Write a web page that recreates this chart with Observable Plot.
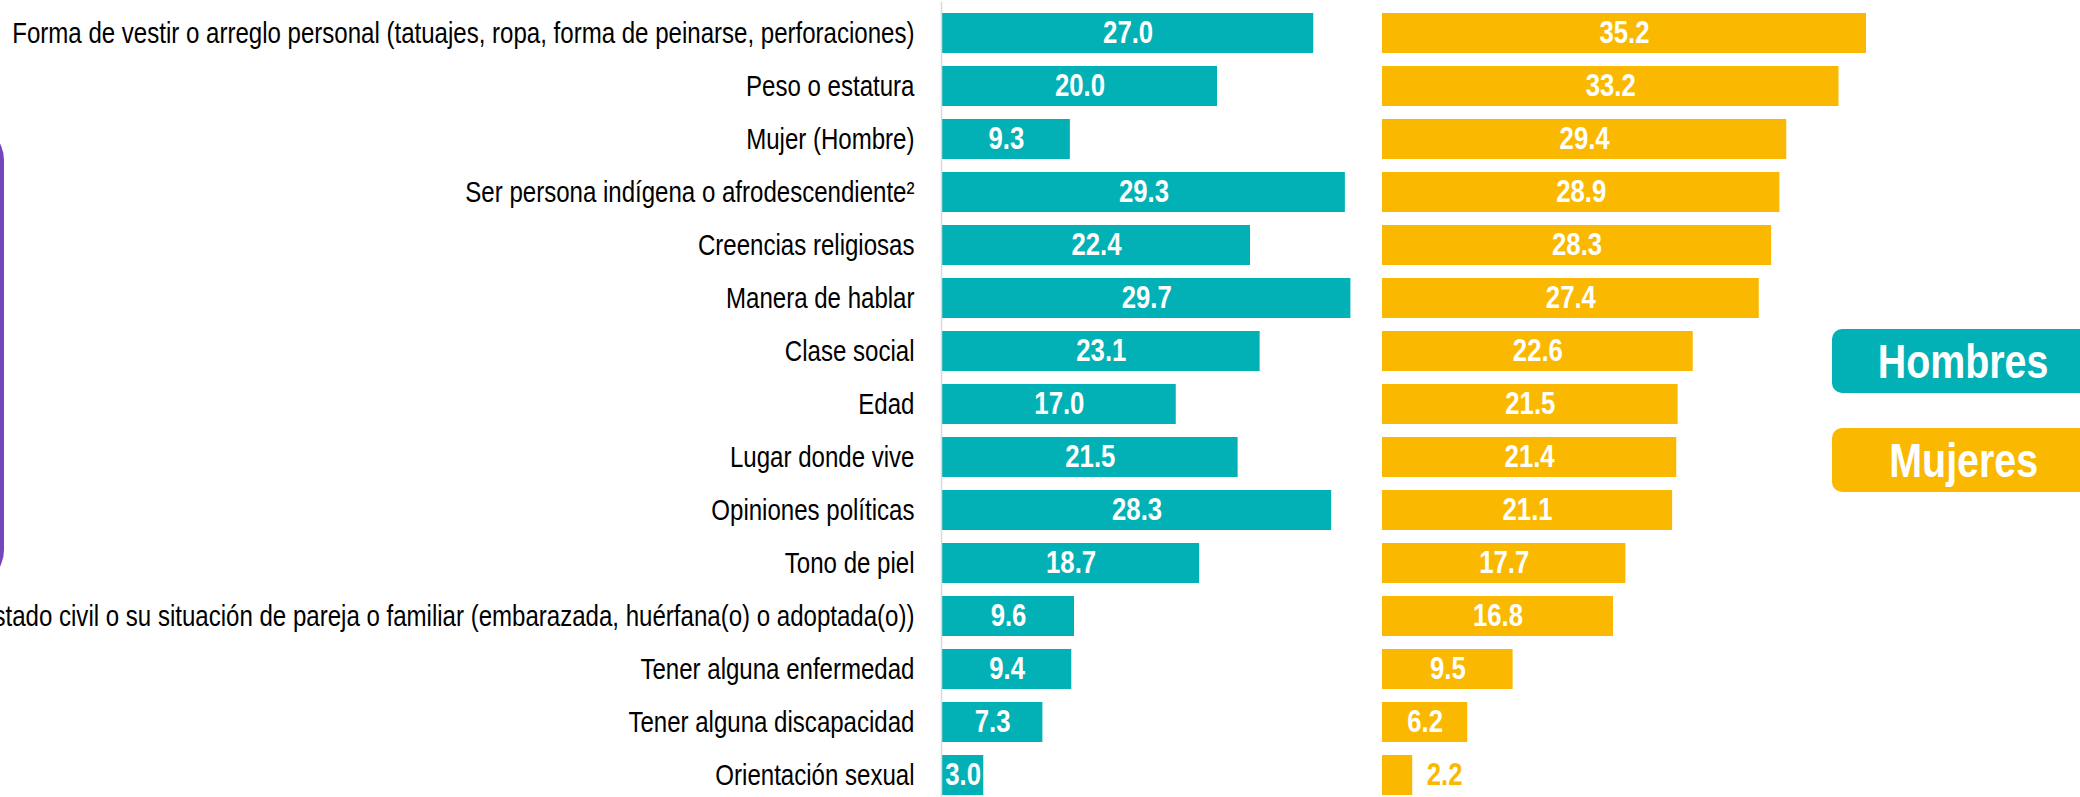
<!DOCTYPE html>
<html><head><meta charset="utf-8">
<script src="https://cdn.jsdelivr.net/npm/d3@7"></script>
<script src="https://cdn.jsdelivr.net/npm/@observablehq/plot@0.6"></script>
<style>
html,body{margin:0;padding:0;background:#fff;overflow:hidden;width:2080px;height:797px;}
#wrap{position:relative;width:2080px;height:797px;overflow:hidden;}
#wrap svg{position:absolute;left:0;top:0;}
.deco{position:absolute;left:-296px;top:124px;width:300px;height:462px;border-radius:36px;background:#7446BE;}
.legend-item{position:absolute;left:1832px;width:263px;height:64px;border-radius:10px;color:#fff;font-family:"Liberation Sans",Arial,sans-serif;font-weight:bold;font-size:48px;display:flex;align-items:center;justify-content:center;}
.legend-item span{display:inline-block;transform:scaleX(0.82);}
</style></head><body><div id="wrap"><div class="deco"></div></div>
<script>
const categories = [
  "Forma de vestir o arreglo personal (tatuajes, ropa, forma de peinarse, perforaciones)",
  "Peso o estatura",
  "Mujer (Hombre)",
  "Ser persona indígena o afrodescendiente²",
  "Creencias religiosas",
  "Manera de hablar",
  "Clase social",
  "Edad",
  "Lugar donde vive",
  "Opiniones políticas",
  "Tono de piel",
  "Estado civil o su situación de pareja o familiar (embarazada, huérfana(o) o adoptada(o))",
  "Tener alguna enfermedad",
  "Tener alguna discapacidad",
  "Orientación sexual"
];
const hombres = [27.0, 20.0, 9.3, 29.3, 22.4, 29.7, 23.1, 17.0, 21.5, 28.3, 18.7, 9.6, 9.4, 7.3, 3.0];
const mujeres = [35.2, 33.2, 29.4, 28.9, 28.3, 27.4, 22.6, 21.5, 21.4, 21.1, 17.7, 16.8, 9.5, 6.2, 2.2];
const series = ["Hombres", "Mujeres"];
const colors = ["#02B1B5", "#FAB900"];

const rows = categories.flatMap((c, i) => [
  {cat: c, sex: series[0], value: hombres[i]},
  {cat: c, sex: series[1], value: mujeres[i]}
]);
const font = '"Liberation Sans", Arial, sans-serif';
const inside = d => d.value >= 2.5;
const fmt = d => d.value.toFixed(1);

const chart = Plot.plot({
  width: 2080,
  height: 806,
  marginLeft: 941,
  marginRight: 257.7,
  marginTop: 1.7,
  marginBottom: 0,
  style: {fontFamily: font, background: "transparent"},
  x: {domain: [0, 32], axis: null},
  y: {domain: categories, paddingInner: 0.245, paddingOuter: 0.1225, axis: null},
  fx: {domain: series, padding: 0, axis: null},
  color: {domain: series, range: colors},
  marks: [
    Plot.barX(rows, {fx: "sex", y: "cat", x: "value", fill: "sex"}),
    Plot.ruleX([{sex: series[0]}], {fx: "sex", x: 0, stroke: "#d9d9d9", strokeWidth: 1.5, dx: -1}),
    Plot.text(rows.filter(inside), {fx: "sex", y: "cat", x: d => d.value / 2, text: fmt, fill: "white", fontWeight: "bold", fontSize: 31}),
    Plot.text(rows.filter(d => !inside(d)), {fx: "sex", y: "cat", x: "value", text: fmt, fill: "sex", fontWeight: "bold", fontSize: 31, textAnchor: "start", dx: 14}),
    Plot.text(rows.filter(d => d.sex === series[0]), {fx: "sex", y: "cat", x: 0, text: "cat", textAnchor: "end", dx: -28, fontSize: 29, fill: "#000"})
  ]
});
// narrow the type (Arial Narrow look) around each text's anchor point
chart.querySelectorAll("text").forEach(t => {
  const tr = t.getAttribute("transform") || "";
  t.setAttribute("transform", tr + " scale(0.83,1)");
});
const wrap = document.getElementById("wrap");
wrap.append(chart);
series.forEach((s, i) => {
  const d = document.createElement("div");
  d.className = "legend-item";
  d.style.top = [329, 428][i] + "px";
  d.style.background = colors[i];
  const sp = document.createElement("span");
  sp.textContent = s;
  d.append(sp);
  wrap.append(d);
});
</script>
</body></html>
